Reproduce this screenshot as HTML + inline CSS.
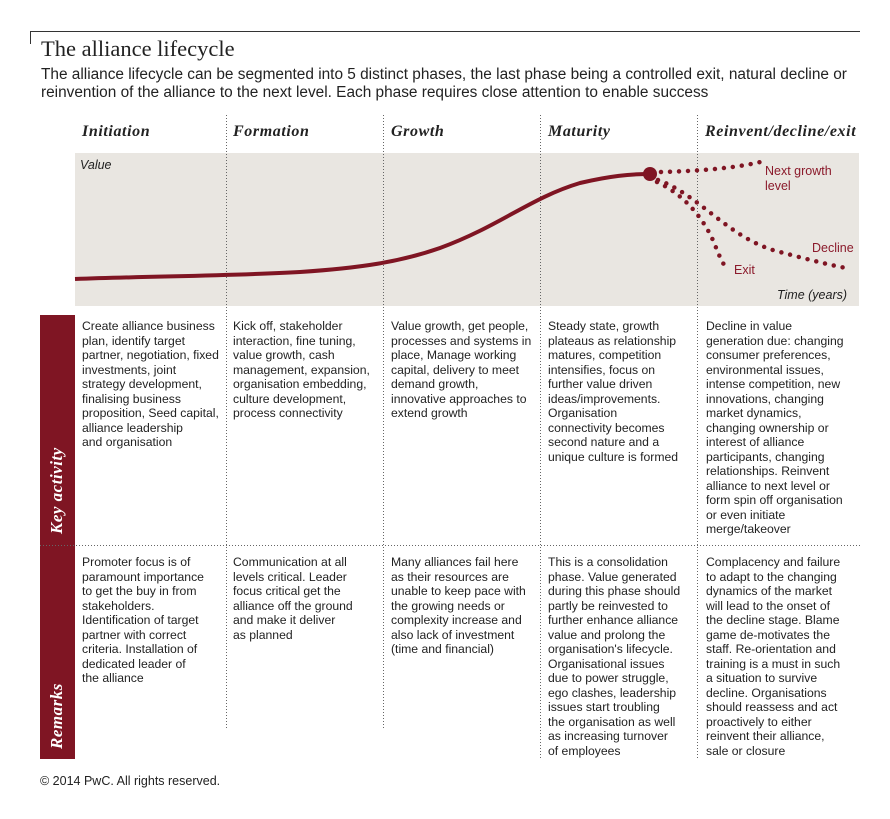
<!DOCTYPE html>
<html><head><style>
body{margin:0;background:#fff;width:890px;height:819px;position:relative;font-family:"Liberation Sans",sans-serif;color:#222;overflow:hidden}
.a{position:absolute}
.t{font-size:12.2px;line-height:14.5px;white-space:nowrap}
.h{font-family:"Liberation Serif",serif;font-weight:bold;font-style:italic;font-size:16px;letter-spacing:0.6px;color:#222}
.lbl{color:#fff;font-family:"Liberation Serif",serif;font-weight:bold;font-style:italic;font-size:17px;letter-spacing:0.5px;transform:rotate(-90deg);transform-origin:left top;white-space:nowrap}
</style></head><body>
<div class="a" style="left:30px;top:31px;width:830px;height:1px;background:#333"></div>
<div class="a" style="left:30px;top:31px;width:1px;height:13px;background:#333"></div>
<div class="a" style="left:41px;top:36px;font-family:'Liberation Serif',serif;font-size:22.5px;color:#222">The alliance lifecycle</div>
<div class="a" style="left:41px;top:66px;font-size:15.4px;line-height:18px;color:#222;white-space:nowrap">The alliance lifecycle can be segmented into 5 distinct phases, the last phase being a controlled exit, natural decline or<br>reinvention of the alliance to the next level. Each phase requires close attention to enable success</div>
<div class="a" style="left:75px;top:153px;width:784px;height:153px;background:#e9e6e1"></div>
<div class="a h" style="left:82px;top:123px">Initiation</div>
<div class="a h" style="left:233px;top:123px">Formation</div>
<div class="a h" style="left:391px;top:123px">Growth</div>
<div class="a h" style="left:548px;top:123px">Maturity</div>
<div class="a h" style="left:705px;top:123px">Reinvent/decline/exit</div>
<div class="a" style="left:40px;top:315px;width:35px;height:444px;background:#7f1523"></div>
<div class="a lbl" style="left:47px;top:534px">Key activity</div>
<div class="a lbl" style="left:47px;top:749px">Remarks</div>
<svg class="a" style="left:0;top:0" width="890" height="819">
<g stroke="#666" stroke-width="1" stroke-dasharray="1,2">
<line x1="226.5" y1="115" x2="226.5" y2="728"/>
<line x1="383.5" y1="115" x2="383.5" y2="728"/>
<line x1="540.5" y1="115" x2="540.5" y2="760"/>
<line x1="697.5" y1="115" x2="697.5" y2="760"/>
<line x1="40" y1="545.5" x2="860" y2="545.5"/>
</g>
<path d="M75,279 C160,276 230,276 300,272 C360,268 400,262 440,248 C500,226 530,198 580,183 C610,176 630,174 650,174" fill="none" stroke="#7f1523" stroke-width="4"/>
<circle cx="650" cy="174" r="7" fill="#7f1523"/>
<g fill="none" stroke="#7f1523" stroke-width="4.5" stroke-linecap="round" stroke-dasharray="0,9">
<path d="M661,172 C700,171 740,168 768,160"/>
<path d="M658,180 C700,195 730,240 780,252 C810,260 830,265 846,268"/>
<path d="M657,182 C685,195 705,220 715,245 C720,258 724,266 728,270"/>
</g>
<g font-size="12.5" fill="#8b1a2b" font-family="Liberation Sans,sans-serif">
<text x="765" y="175">Next growth</text><text x="765" y="190">level</text>
<text x="812" y="252">Decline</text>
<text x="734" y="274">Exit</text>
</g>
<text x="777" y="299" font-size="12.5" font-style="italic" fill="#222" font-family="Liberation Sans,sans-serif">Time (years)</text>
<text x="80" y="169" font-size="12.5" font-style="italic" fill="#222" font-family="Liberation Sans,sans-serif">Value</text>
</svg>
<div class="a t" style="left:82px;top:319px">Create alliance business<br>plan, identify target<br>partner, negotiation, fixed<br>investments, joint<br>strategy development,<br>finalising business<br>proposition, Seed capital,<br>alliance leadership<br>and organisation</div>
<div class="a t" style="left:233px;top:319px">Kick off, stakeholder<br>interaction, fine tuning,<br>value growth, cash<br>management, expansion,<br>organisation embedding,<br>culture development,<br>process connectivity</div>
<div class="a t" style="left:391px;top:319px">Value growth, get people,<br>processes and systems in<br>place, Manage working<br>capital, delivery to meet<br>demand growth,<br>innovative approaches to<br>extend growth</div>
<div class="a t" style="left:548px;top:319px">Steady state, growth<br>plateaus as relationship<br>matures, competition<br>intensifies, focus on<br>further value driven<br>ideas/improvements.<br>Organisation<br>connectivity becomes<br>second nature and a<br>unique culture is formed</div>
<div class="a t" style="left:706px;top:319px">Decline in value<br>generation due: changing<br>consumer preferences,<br>environmental issues,<br>intense competition, new<br>innovations, changing<br>market dynamics,<br>changing ownership or<br>interest of alliance<br>participants, changing<br>relationships. Reinvent<br>alliance to next level or<br>form spin off organisation<br>or even initiate<br>merge/takeover</div>
<div class="a t" style="left:82px;top:555px">Promoter focus is of<br>paramount importance<br>to get the buy in from<br>stakeholders.<br>Identification of target<br>partner with correct<br>criteria. Installation of<br>dedicated leader of<br>the alliance</div>
<div class="a t" style="left:233px;top:555px">Communication at all<br>levels critical. Leader<br>focus critical get the<br>alliance off the ground<br>and make it deliver<br>as planned</div>
<div class="a t" style="left:391px;top:555px">Many alliances fail here<br>as their resources are<br>unable to keep pace with<br>the growing needs or<br>complexity increase and<br>also lack of investment<br>(time and financial)</div>
<div class="a t" style="left:548px;top:555px">This is a consolidation<br>phase. Value generated<br>during this phase should<br>partly be reinvested to<br>further enhance alliance<br>value and prolong the<br>organisation's lifecycle.<br>Organisational issues<br>due to power struggle,<br>ego clashes, leadership<br>issues start troubling<br>the organisation as well<br>as increasing turnover<br>of employees</div>
<div class="a t" style="left:706px;top:555px">Complacency and failure<br>to adapt to the changing<br>dynamics of the market<br>will lead to the onset of<br>the decline stage. Blame<br>game de-motivates the<br>staff. Re-orientation and<br>training is a must in such<br>a situation to survive<br>decline. Organisations<br>should reassess and act<br>proactively to either<br>reinvent their alliance,<br>sale or closure</div>
<div class="a" style="left:40px;top:774px;font-size:12.5px">© 2014 PwC. All rights reserved.</div>
</body></html>
